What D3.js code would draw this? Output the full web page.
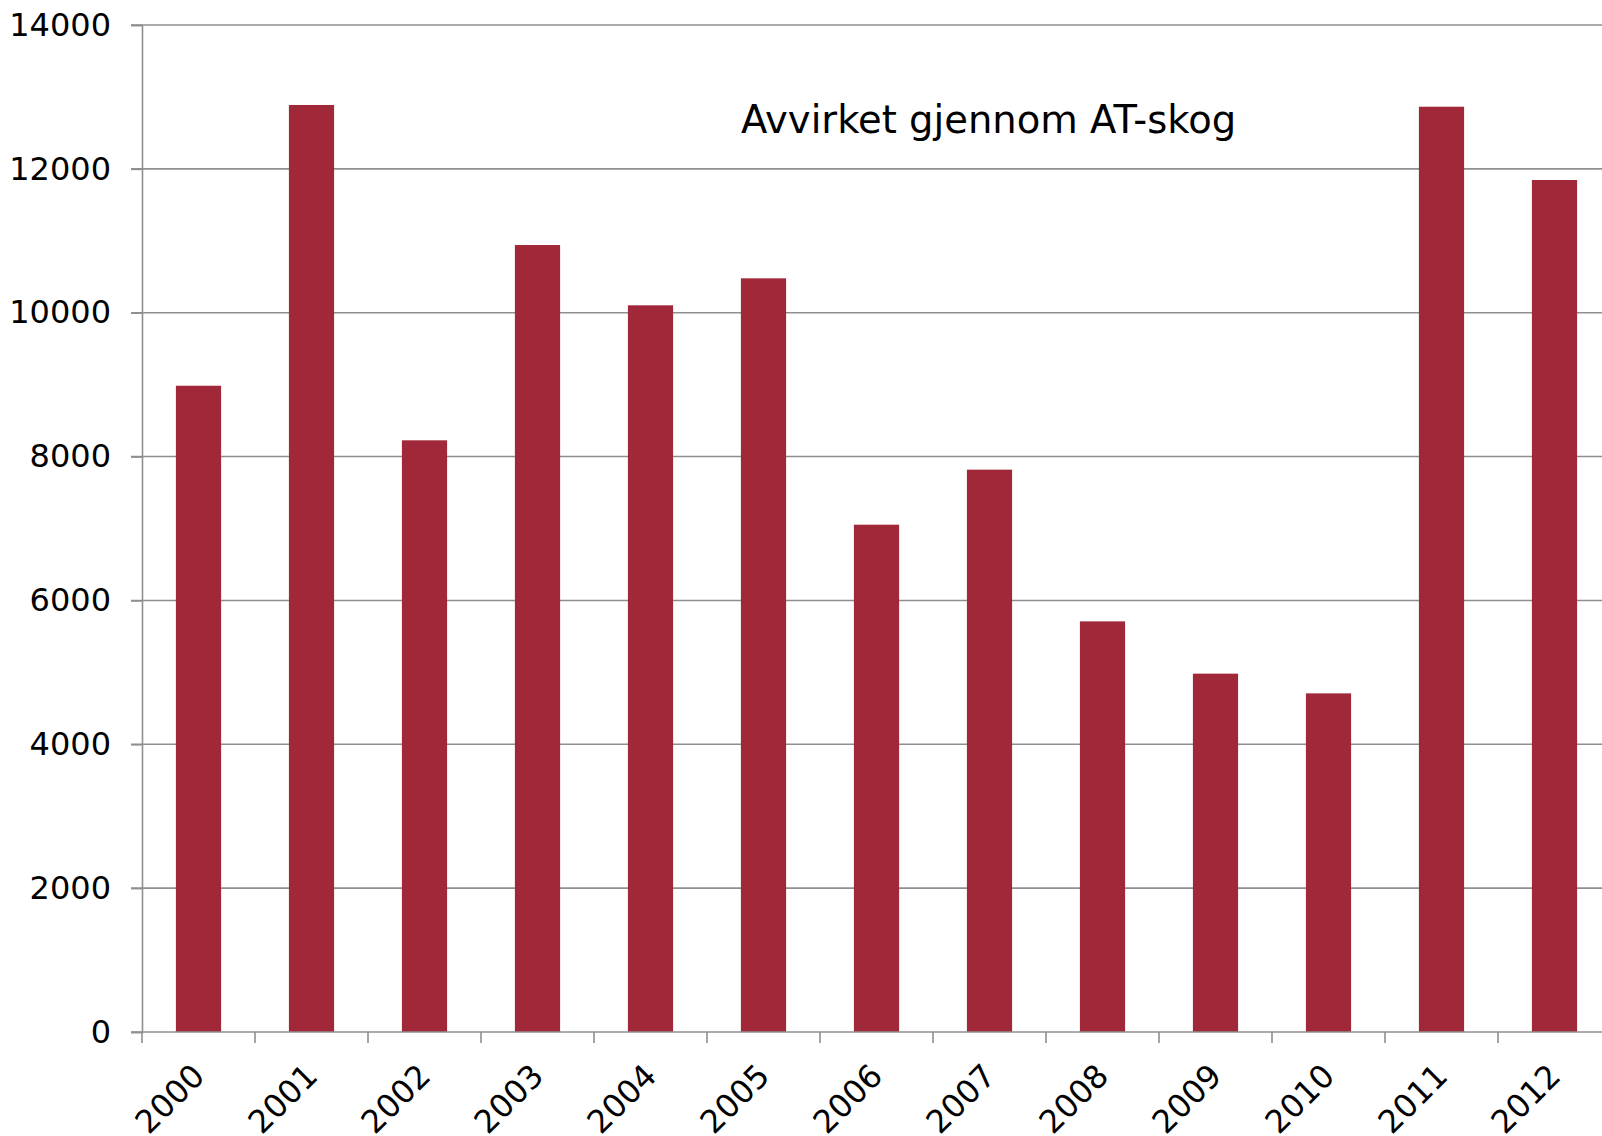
<!DOCTYPE html>
<html>
<head>
<meta charset="utf-8">
<script src="https://cdn.jsdelivr.net/npm/d3@7"></script>
<style>
  html, body { margin: 0; padding: 0; background: #fff; overflow: hidden; }
  svg { display: block; }
  text { font-family: "DejaVu Sans", Verdana, sans-serif; fill: #000; }
</style>
</head>
<body>
<svg id="chart" width="1602" height="1136"></svg>
<script>
const years = ["2000","2001","2002","2003","2004","2005","2006","2007","2008","2009","2010","2011","2012"];
const values = [8985, 12888, 8226, 10941, 10103, 10478, 7053, 7818, 5709, 4982, 4708, 12864, 11845];
const yTicks = [0, 2000, 4000, 6000, 8000, 10000, 12000, 14000];
const chartTitle = "Avvirket gjennom AT-skog";

(function () {
const svg = d3.select("#chart");
const mLeft = 142, mTop = 25, mBottom = 1032;
const step = 113;
const mRight = mLeft + step * years.length;

const x = d3.scaleBand().domain(years).range([mLeft, mRight]).paddingInner(0.6).paddingOuter(0.3);
const y = d3.scaleLinear().domain([0, 14000]).range([mBottom, mTop]);

const gridColor = "#8f8f8f";

// gridlines
svg.append("g").selectAll("line").data(yTicks.filter(d => d > 0)).join("line")
  .attr("x1", mLeft - 11).attr("x2", 1602)
  .attr("y1", d => y(d)).attr("y2", d => y(d))
  .attr("stroke", gridColor).attr("stroke-width", 1.6);

// bars
svg.append("g").selectAll("rect").data(values).join("rect")
  .attr("x", (d, i) => x(years[i]))
  .attr("width", x.bandwidth())
  .attr("y", d => y(d))
  .attr("height", d => y(0) - y(d))
  .attr("fill", "#A02838");

// y axis
const yAxis = d3.axisLeft(y).tickValues(yTicks).tickSize(11).tickPadding(20).tickFormat(d3.format("d"));
const gy = svg.append("g").attr("transform", `translate(${mLeft},0)`).call(yAxis);
gy.select(".domain").attr("stroke", gridColor).attr("stroke-width", 1.6);
gy.selectAll(".tick line").attr("stroke", gridColor).attr("stroke-width", 1.6);
gy.selectAll(".tick text").attr("font-size", 32).attr("font-family", "DejaVu Sans, Verdana, sans-serif").attr("fill", "#000");

// x axis
const xEdge = d3.scaleLinear().domain([0, years.length]).range([mLeft, mRight]);
const gx = svg.append("g");
gx.append("line").attr("x1", mLeft - 11).attr("x2", 1602).attr("y1", mBottom).attr("y2", mBottom)
  .attr("stroke", gridColor).attr("stroke-width", 1.6);
gx.selectAll("line.tk").data(d3.range(years.length + 1)).join("line").attr("class", "tk")
  .attr("x1", d => xEdge(d)).attr("x2", d => xEdge(d))
  .attr("y1", mBottom).attr("y2", mBottom + 11)
  .attr("stroke", gridColor).attr("stroke-width", 1.6);
gx.selectAll("text").data(years).join("text")
  .attr("transform", d => `translate(${x(d) + x.bandwidth() / 2},${mBottom + 38}) rotate(-45)`)
  .attr("text-anchor", "end")
  .attr("dy", "0.35em")
  .attr("font-size", 32)
  .text(d => d);

// title
svg.append("text").attr("x", 741).attr("y", 133).attr("font-size", 38.5).text(chartTitle);
})();
</script>
</body>
</html>
